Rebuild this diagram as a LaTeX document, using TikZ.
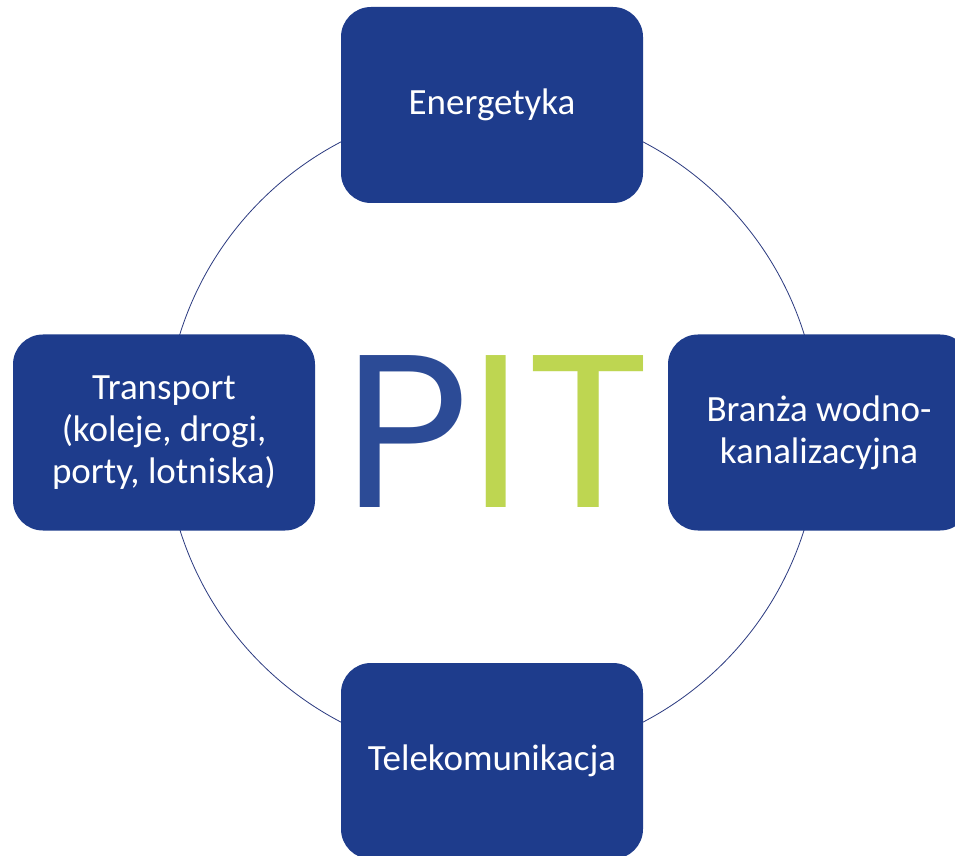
\documentclass[tikz,border=0pt]{standalone}
\usepackage{fontspec}
\setmainfont{Carlito}
\newfontfamily\pitfont{Poppins}
\definecolor{boxblue}{HTML}{1E3C8C}
\definecolor{pblue}{HTML}{2C4B96}
\definecolor{pgreen}{HTML}{BED651}
\definecolor{ringcol}{HTML}{2B3A80}
\begin{document}
\begin{tikzpicture}[x=1pt,y=1pt,
  box/.style={rounded corners=30pt, fill=boxblue, minimum width=302pt, minimum height=196pt,
    text=white, align=center, font=\fontsize{37}{42}\selectfont, inner sep=0pt},
  pit/.style={font=\pitfont\fontsize{218}{218}\selectfont, anchor=base, inner sep=0pt}]
\useasboundingbox (0,0) rectangle (955,855);
\clip (0,0) rectangle (955,855);
\fill[white] (0,0) rectangle (955,855);
\coordinate (c) at (492,423);
\draw[ringcol, line width=0.8pt] (c) circle (327pt);
\node[box] (top) at (492,750) {Energetyka};
\node[box] (left) at (164,422.5) {Transport\\(koleje, drogi,\\porty, lotniska)};
\node[box] (right) at (819,422.5) {Branża wodno-\\kanalizacyjna};
\node[box] (bottom) at (492,94) {Telekomunikacja};
\node[pit, text=pblue] (P) at (407,348) {P};
\node[pit, text=pgreen] (I) at (496,348) {I};
\node[pit, xscale=1.07, text=pgreen] (T) at (589,348) {T};
\end{tikzpicture}
\end{document}
